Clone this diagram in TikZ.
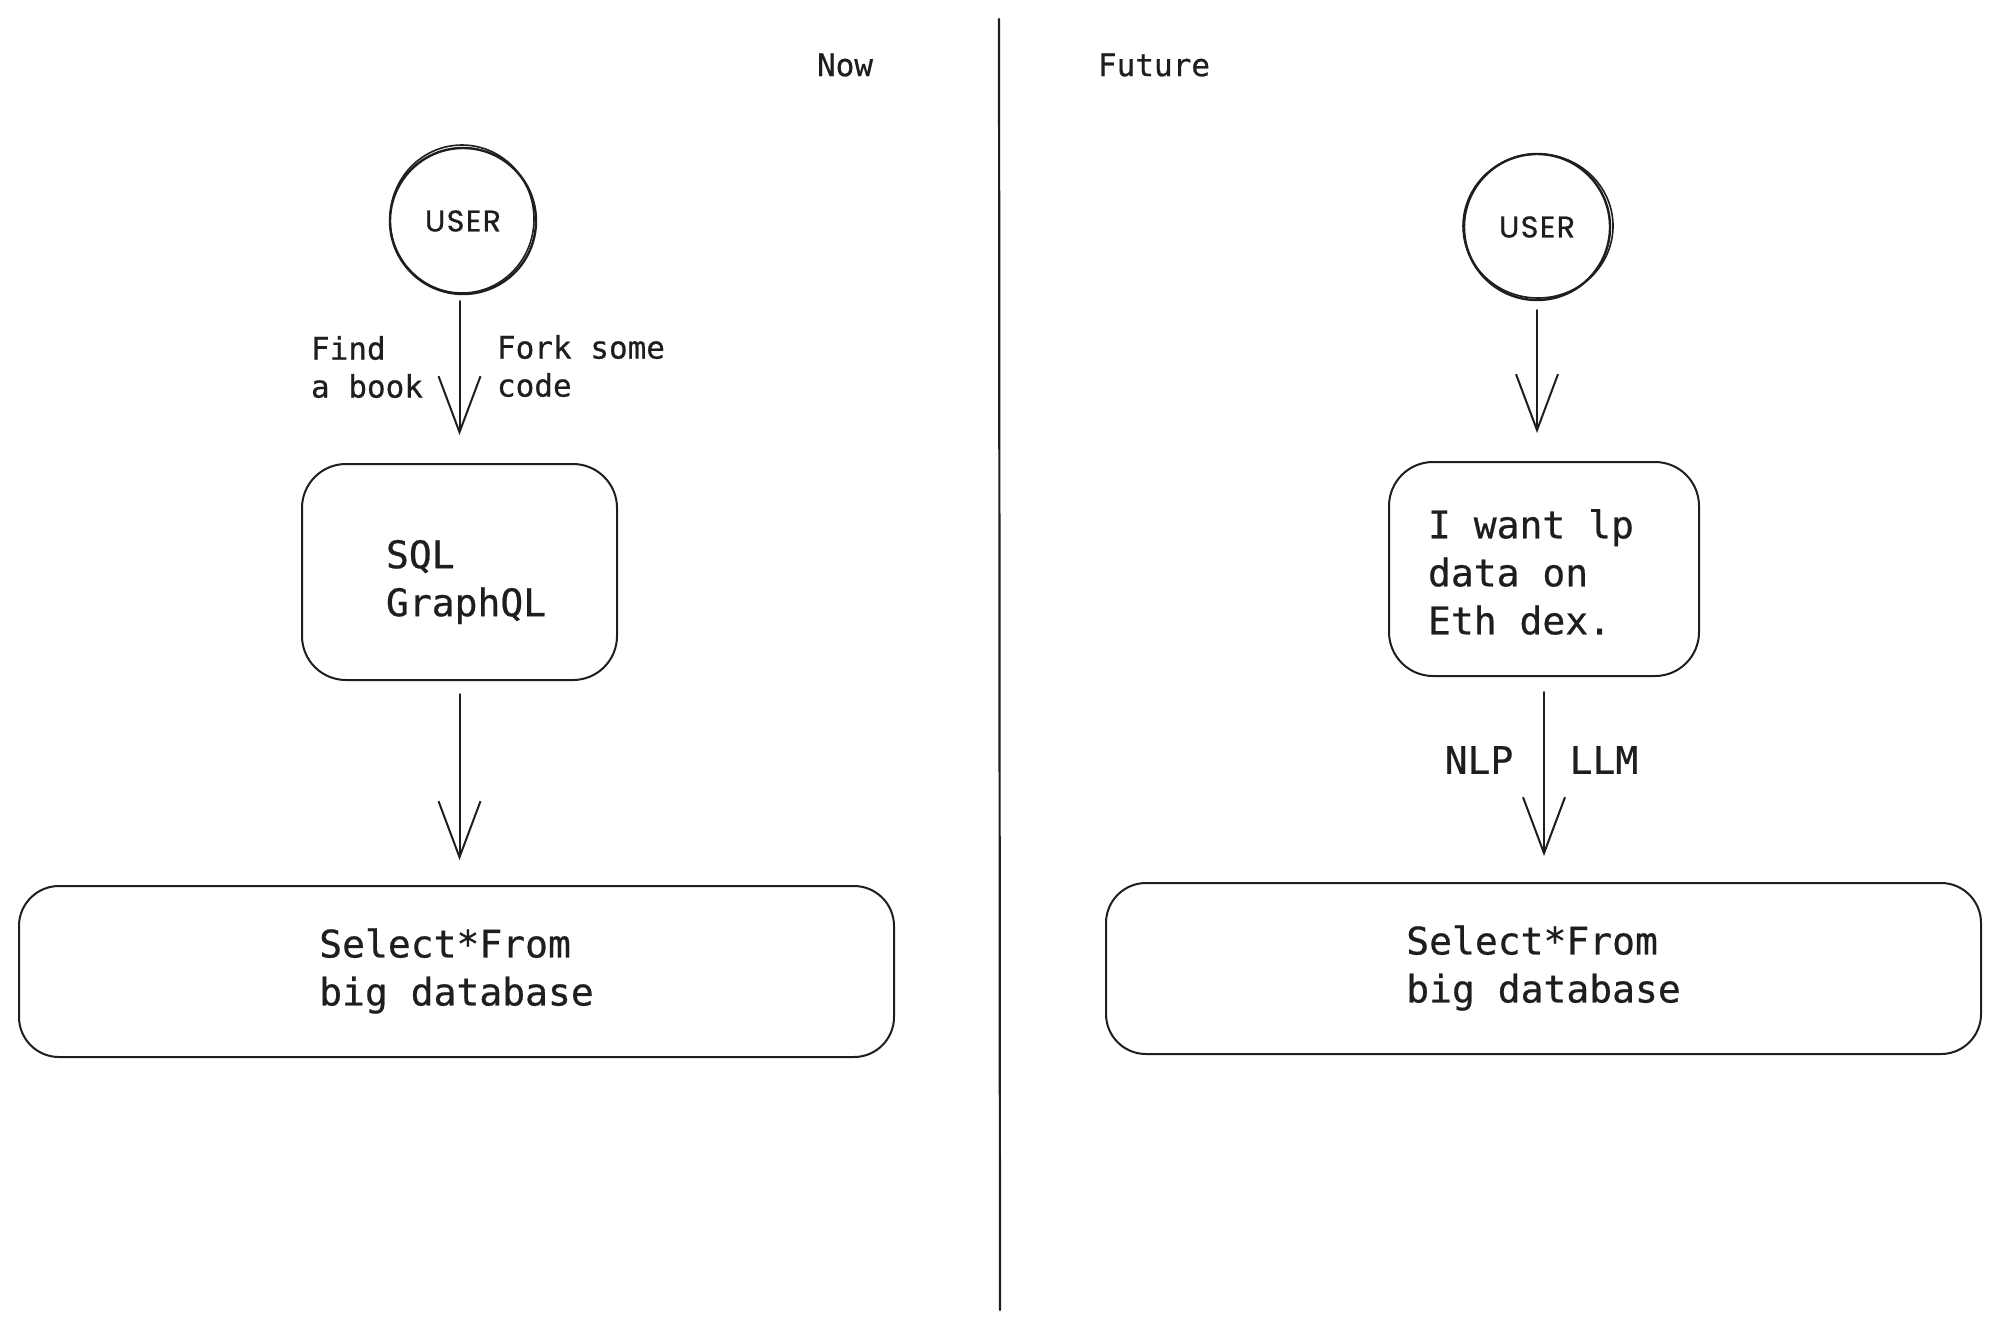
\documentclass[tikz,border=0pt]{standalone}
\usepackage{fontspec}
\setmainfont[FakeBold=0.6]{DejaVu Sans Mono}
\newfontfamily\handfont[LetterSpace=5,FakeBold=0.8]{Poppins}
\usetikzlibrary{arrows.meta}
\definecolor{ink}{RGB}{30,30,30}
\begin{document}
\begin{tikzpicture}[x=0.5pt,y=-0.5pt,
  line width=1pt, line cap=round, line join=round, draw=ink, text=ink,
  small/.style={font=\fontsize{15.5}{19}\selectfont, inner sep=0pt, align=left},
  big/.style={font=\fontsize{19}{24}\selectfont, inner sep=0pt},
  box/.style={draw, rounded corners=22pt, inner sep=0pt},
  boxtext/.style={font=\fontsize{19}{24}\selectfont, inner sep=0pt, align=left},
  usernode/.style={draw, circle, line width=1.2pt, minimum size=73pt, inner sep=0pt, font=\handfont\fontsize{15}{15}\selectfont},
  sketch/.style={line width=0.8pt},
  arr/.style={-{Straight Barb[length=28pt,width=21pt,line width=1pt]}},
]
\useasboundingbox[fill=white] (0,0) rectangle (2000,1329);

% headings and divider
\node[small] (now) at (845,65) {Now};
\node[small] (future) at (1154,65) {Future};
\coordinate (divtop) at (999,19);
\coordinate (divbot) at (1000,1310);
\draw[line width=1.1pt] (divtop) -- (divbot);

% ---- Now ----
\node[usernode] (user1) at (463,221) {USER};
\draw[sketch] ([shift={(-1,-2)}]user1.center) ellipse [x radius=36pt, y radius=37pt];
\node[box, minimum width=157.5pt, minimum height=108pt] (sql) at (459.5,572) {};
\node[boxtext, anchor=west] (sqltext) at (385,582) {SQL\\GraphQL};
\node[box, rounded corners=20pt, minimum width=437.5pt, minimum height=85.5pt] (db1) at (456.5,971.5) {};
\node[boxtext] (db1text) at (456.5,971) {Select*From\\big database};

\draw[arr] ([yshift=-3pt]user1.south -| sql.north) -- ([yshift=14pt]sql.north);
\node[small, anchor=west] (find) at (310,367) {Find\\a book};
\node[small, anchor=west] (fork) at (496,366) {Fork some\\code};
\draw[arr] ([yshift=-6.5pt]sql.south) -- ([yshift=12.5pt]db1.north -| sql.south);

% ---- Future ----
\node[usernode] (user2) at (1537,227) {USER};
\draw[sketch] ([shift={(1,-1)}]user2.center) ellipse [x radius=37.5pt, y radius=36pt];
\node[box, minimum width=155pt, minimum height=107pt] (want) at (1544,569) {};
\node[boxtext, anchor=west] (wanttext) at (1427,572) {I want lp\\data on\\Eth dex.};
\node[box, rounded corners=20pt, minimum width=437.5pt, minimum height=85.5pt] (db2) at (1543.5,968.5) {};
\node[boxtext] (db2text) at (1543.5,968) {Select*From\\big database};

\draw[arr] ([yshift=-4.5pt]user2.south) -- ([yshift=14pt]want.north -| user2.south);
\draw[arr] ([yshift=-7.5pt]want.south) -- ([yshift=13pt]db2.north -| want.south);
\node[big] (nlp) at (1479,760) {NLP};
\node[big] (llm) at (1604,760) {LLM};
\end{tikzpicture}
\end{document}
